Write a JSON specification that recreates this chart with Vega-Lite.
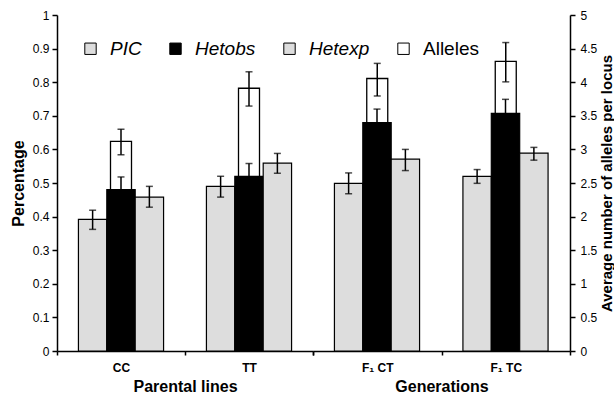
{
  "$schema": "https://vega.github.io/schema/vega-lite/v6.json",
  "background": "white",
  "padding": {"left": 10, "top": 9, "right": 0, "bottom": 0},
  "datasets": {
    "bars": [
      {"panel": "P", "group": "CC", "series": "PIC", "value": 0.392, "lo": 0.362, "hi": 0.419},
      {"panel": "P", "group": "CC", "series": "Het_obs", "value": 0.480, "lo": 0.442, "hi": 0.518},
      {"panel": "P", "group": "CC", "series": "Het_exp", "value": 0.458, "lo": 0.428, "hi": 0.490},
      {"panel": "P", "group": "TT", "series": "PIC", "value": 0.490, "lo": 0.458, "hi": 0.520},
      {"panel": "P", "group": "TT", "series": "Het_obs", "value": 0.520, "lo": 0.482, "hi": 0.558},
      {"panel": "P", "group": "TT", "series": "Het_exp", "value": 0.559, "lo": 0.529, "hi": 0.588},
      {"panel": "G", "group": "F₁ CT", "series": "PIC", "value": 0.499, "lo": 0.468, "hi": 0.530},
      {"panel": "G", "group": "F₁ CT", "series": "Het_obs", "value": 0.680, "lo": 0.640, "hi": 0.720},
      {"panel": "G", "group": "F₁ CT", "series": "Het_exp", "value": 0.571, "lo": 0.537, "hi": 0.600},
      {"panel": "G", "group": "F₁ TC", "series": "PIC", "value": 0.520, "lo": 0.499, "hi": 0.540},
      {"panel": "G", "group": "F₁ TC", "series": "Het_obs", "value": 0.707, "lo": 0.665, "hi": 0.749},
      {"panel": "G", "group": "F₁ TC", "series": "Het_exp", "value": 0.589, "lo": 0.568, "hi": 0.606}
    ],
    "alleles": [
      {"panel": "P", "group": "CC", "series": "Alleles", "value": 3.12, "lo": 2.92, "hi": 3.30},
      {"panel": "P", "group": "TT", "series": "Alleles", "value": 3.91, "lo": 3.645, "hi": 4.155},
      {"panel": "G", "group": "F₁ CT", "series": "Alleles", "value": 4.055, "lo": 3.795, "hi": 4.28},
      {"panel": "G", "group": "F₁ TC", "series": "Alleles", "value": 4.31, "lo": 4.005, "hi": 4.59}
    ]
  },
  "spacing": 0,
  "bounds": "flush",
  "resolve": {"scale": {"color": "independent"}, "legend": {"color": "independent"}},
  "hconcat": [
    {
      "width": 256,
      "height": 336,
      "layer": [
        {
          "data": {"name": "alleles"},
          "transform": [{"filter": "datum.panel == 'P'"}],
          "encoding": {
            "x": {"field": "group", "type": "nominal", "sort": ["CC", "TT"], "scale": {"paddingInner": 0, "paddingOuter": 0},
                  "axis": {"title": "Parental lines", "labelAngle": 0, "labelFontWeight": "bold", "tickBand": "extent", "tickSize": 4, "labelPadding": 7, "titlePadding": 5}}
          },
          "layer": [
            {
              "mark": {"type": "bar", "width": 21, "stroke": "black", "strokeWidth": 1.3},
              "encoding": {
                "y": {"field": "value", "type": "quantitative", "scale": {"domain": [0, 5], "nice": false}, "axis": null},
                "color": {"field": "series", "type": "nominal",
                          "scale": {"domain": ["PIC", "Het_obs", "Het_exp", "Alleles"], "range": ["#dddddd", "#000000", "#dddddd", "#ffffff"]},
                          "legend": {"title": null, "orient": "top-left", "direction": "horizontal", "offset": 24,
                                     "labelExpr": "datum.value == 'Het_obs' ? 'Hetobs' : datum.value == 'Het_exp' ? 'Hetexp' : datum.value",
                                     "encode": {"labels": {"update": {"fontStyle": {"signal": "datum.value == 'Alleles' ? 'normal' : 'italic'"}}}}}}
              }
            },
            {
              "mark": {"type": "rule", "color": "black", "strokeWidth": 1.5},
              "encoding": {"y": {"field": "lo", "type": "quantitative", "axis": null}, "y2": {"field": "hi"}}
            },
            {
              "mark": {"type": "tick", "color": "black", "size": 7, "thickness": 1.5},
              "encoding": {"y": {"field": "lo", "type": "quantitative", "axis": null}}
            },
            {
              "mark": {"type": "tick", "color": "black", "size": 7, "thickness": 1.5},
              "encoding": {"y": {"field": "hi", "type": "quantitative", "axis": null}}
            }
          ]
        },
        {
          "data": {"name": "bars"},
          "transform": [{"filter": "datum.panel == 'P'"}],
          "encoding": {
            "x": {"field": "group", "type": "nominal", "sort": ["CC", "TT"], "scale": {"paddingInner": 0, "paddingOuter": 0},
                  "axis": {"title": "Parental lines", "labelAngle": 0, "labelFontWeight": "bold", "tickBand": "extent", "tickSize": 4, "labelPadding": 7, "titlePadding": 5}},
            "xOffset": {"field": "series", "type": "nominal", "sort": ["PIC", "Het_obs", "Het_exp"],
                        "scale": {"domain": ["PIC", "Het_obs", "Het_exp"], "paddingInner": 0, "paddingOuter": 0.755}}
          },
          "layer": [
            {
              "mark": {"type": "bar", "stroke": "black", "strokeWidth": 1.2},
              "encoding": {
                "y": {"field": "value", "type": "quantitative", "scale": {"domain": [0, 1], "nice": false},
                      "axis": {"orient": "left", "title": "Percentage", "values": [0, 0.1, 0.2, 0.3, 0.4, 0.5, 0.6, 0.7, 0.8, 0.9, 1], "format": ".1~f", "labelPadding": 3, "titlePadding": 6}},
                "color": {"field": "series", "type": "nominal",
                          "scale": {"domain": ["PIC", "Het_obs", "Het_exp", "Alleles"], "range": ["#dddddd", "#000000", "#dddddd", "#ffffff"]},
                          "legend": {"title": null, "orient": "top-left", "direction": "horizontal", "offset": 24,
                                     "labelExpr": "datum.value == 'Het_obs' ? 'Hetobs' : datum.value == 'Het_exp' ? 'Hetexp' : datum.value",
                                     "encode": {"labels": {"update": {"fontStyle": {"signal": "datum.value == 'Alleles' ? 'normal' : 'italic'"}}}}}}
              }
            },
            {
              "mark": {"type": "rule", "color": "black", "strokeWidth": 1.5},
              "encoding": {"y": {"field": "lo", "type": "quantitative",
                                 "axis": {"orient": "left", "title": "Percentage", "values": [0, 0.1, 0.2, 0.3, 0.4, 0.5, 0.6, 0.7, 0.8, 0.9, 1], "format": ".1~f", "labelPadding": 3, "titlePadding": 6}},
                           "y2": {"field": "hi"}}
            },
            {
              "mark": {"type": "tick", "color": "black", "size": 7, "thickness": 1.5},
              "encoding": {"y": {"field": "lo", "type": "quantitative",
                                 "axis": {"orient": "left", "title": "Percentage", "values": [0, 0.1, 0.2, 0.3, 0.4, 0.5, 0.6, 0.7, 0.8, 0.9, 1], "format": ".1~f", "labelPadding": 3, "titlePadding": 6}}}
            },
            {
              "mark": {"type": "tick", "color": "black", "size": 7, "thickness": 1.5},
              "encoding": {"y": {"field": "hi", "type": "quantitative",
                                 "axis": {"orient": "left", "title": "Percentage", "values": [0, 0.1, 0.2, 0.3, 0.4, 0.5, 0.6, 0.7, 0.8, 0.9, 1], "format": ".1~f", "labelPadding": 3, "titlePadding": 6}}}
            }
          ]
        }
      ],
      "resolve": {"scale": {"y": "independent"}}
    },
    {
      "width": 257,
      "height": 336,
      "layer": [
        {
          "data": {"name": "alleles"},
          "transform": [{"filter": "datum.panel == 'G'"}],
          "encoding": {
            "x": {"field": "group", "type": "nominal", "sort": ["F₁ CT", "F₁ TC"], "scale": {"paddingInner": 0, "paddingOuter": 0},
                  "axis": {"title": "Generations", "labelAngle": 0, "labelFontWeight": "bold", "tickBand": "extent", "tickSize": 4, "labelPadding": 7, "titlePadding": 5}}
          },
          "layer": [
            {
              "mark": {"type": "bar", "width": 21, "stroke": "black", "strokeWidth": 1.3},
              "encoding": {
                "y": {"field": "value", "type": "quantitative", "scale": {"domain": [0, 5], "nice": false},
                      "axis": {"orient": "right", "title": "Average number of alleles per locus", "titleAngle": 270, "titleBaseline": "top", "titleFontSize": 15,
                               "values": [0, 0.5, 1, 1.5, 2, 2.5, 3, 3.5, 4, 4.5, 5], "format": ".1~f", "labelPadding": 5, "titlePadding": 3}},
                "color": {"field": "series", "type": "nominal",
                          "scale": {"domain": ["PIC", "Het_obs", "Het_exp", "Alleles"], "range": ["#dddddd", "#000000", "#dddddd", "#ffffff"]},
                          "legend": null}
              }
            },
            {
              "mark": {"type": "rule", "color": "black", "strokeWidth": 1.5},
              "encoding": {"y": {"field": "lo", "type": "quantitative",
                                 "axis": {"orient": "right", "title": "Average number of alleles per locus", "titleAngle": 270, "titleBaseline": "top", "titleFontSize": 15,
                                          "values": [0, 0.5, 1, 1.5, 2, 2.5, 3, 3.5, 4, 4.5, 5], "format": ".1~f", "labelPadding": 5, "titlePadding": 3}},
                           "y2": {"field": "hi"}}
            },
            {
              "mark": {"type": "tick", "color": "black", "size": 7, "thickness": 1.5},
              "encoding": {"y": {"field": "lo", "type": "quantitative",
                                 "axis": {"orient": "right", "title": "Average number of alleles per locus", "titleAngle": 270, "titleBaseline": "top", "titleFontSize": 15,
                                          "values": [0, 0.5, 1, 1.5, 2, 2.5, 3, 3.5, 4, 4.5, 5], "format": ".1~f", "labelPadding": 5, "titlePadding": 3}}}
            },
            {
              "mark": {"type": "tick", "color": "black", "size": 7, "thickness": 1.5},
              "encoding": {"y": {"field": "hi", "type": "quantitative",
                                 "axis": {"orient": "right", "title": "Average number of alleles per locus", "titleAngle": 270, "titleBaseline": "top", "titleFontSize": 15,
                                          "values": [0, 0.5, 1, 1.5, 2, 2.5, 3, 3.5, 4, 4.5, 5], "format": ".1~f", "labelPadding": 5, "titlePadding": 3}}}
            }
          ]
        },
        {
          "data": {"name": "bars"},
          "transform": [{"filter": "datum.panel == 'G'"}],
          "encoding": {
            "x": {"field": "group", "type": "nominal", "sort": ["F₁ CT", "F₁ TC"], "scale": {"paddingInner": 0, "paddingOuter": 0},
                  "axis": {"title": "Generations", "labelAngle": 0, "labelFontWeight": "bold", "tickBand": "extent", "tickSize": 4, "labelPadding": 7, "titlePadding": 5}},
            "xOffset": {"field": "series", "type": "nominal", "sort": ["PIC", "Het_obs", "Het_exp"],
                        "scale": {"domain": ["PIC", "Het_obs", "Het_exp"], "paddingInner": 0, "paddingOuter": 0.755}}
          },
          "layer": [
            {
              "mark": {"type": "bar", "stroke": "black", "strokeWidth": 1.2},
              "encoding": {
                "y": {"field": "value", "type": "quantitative", "scale": {"domain": [0, 1], "nice": false}, "axis": null},
                "color": {"field": "series", "type": "nominal",
                          "scale": {"domain": ["PIC", "Het_obs", "Het_exp", "Alleles"], "range": ["#dddddd", "#000000", "#dddddd", "#ffffff"]},
                          "legend": null}
              }
            },
            {
              "mark": {"type": "rule", "color": "black", "strokeWidth": 1.5},
              "encoding": {"y": {"field": "lo", "type": "quantitative", "axis": null}, "y2": {"field": "hi"}}
            },
            {
              "mark": {"type": "tick", "color": "black", "size": 7, "thickness": 1.5},
              "encoding": {"y": {"field": "lo", "type": "quantitative", "axis": null}}
            },
            {
              "mark": {"type": "tick", "color": "black", "size": 7, "thickness": 1.5},
              "encoding": {"y": {"field": "hi", "type": "quantitative", "axis": null}}
            }
          ]
        }
      ],
      "resolve": {"scale": {"y": "independent"}}
    }
  ],
  "config": {
    "view": {"stroke": null},
    "font": "Liberation Sans",
    "axis": {
      "labelFont": "Liberation Sans", "labelFontSize": 12, "labelColor": "black",
      "titleFont": "Liberation Sans", "titleFontSize": 16, "titleFontWeight": "bold", "titleColor": "black",
      "domainColor": "black", "domainWidth": 1.5, "tickColor": "black", "tickWidth": 1.5, "tickSize": 5, "grid": false
    },
    "legend": {
      "labelFont": "Liberation Sans", "labelFontSize": 19, "labelColor": "black",
      "symbolType": "square", "symbolSize": 130, "symbolStrokeColor": "black", "symbolStrokeWidth": 1,
      "columnPadding": 24, "labelOffset": 10, "padding": 0
    }
  }
}
